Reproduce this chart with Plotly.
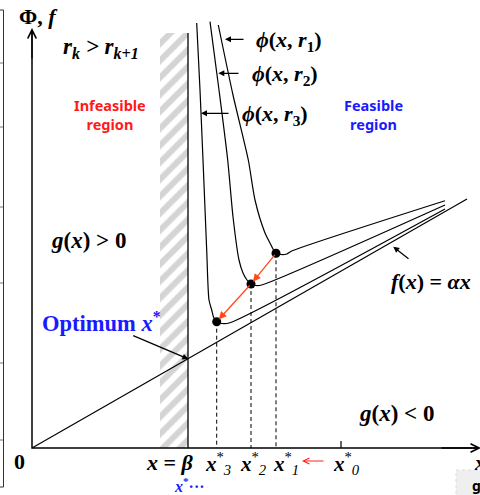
import plotly.graph_objects as go

# ---- data (diagram coordinates: x right, y down, in chart units) ----
r1_x = [218.3, 233, 248.3, 255, 265, 270, 273, 276, 281, 286.7, 291.7, 445]
r1_y = [25, 95, 160, 200, 233, 243, 249, 253.3, 254.5, 254, 251, 200.7]
r2_x = [210, 219, 227.7, 233, 239, 243, 247, 251, 256, 261.7, 445]
r2_y = [21.7, 90, 160, 216.7, 260, 273, 280, 284, 285.5, 285, 205]
r3_x = [196.7, 200, 203, 206.7, 209, 211.7, 213.5, 216.7, 222, 230, 445]
r3_y = [23, 90, 160, 250, 300, 310, 317, 321.7, 323.5, 322.7, 209]
f_x = [32, 467]
f_y = [448, 199]
opt_x = [216.7, 251, 276]
opt_y = [321.7, 284, 253.3]
axis_origin = (32, 448)
beta_x = 188
x0_tick = 341
hatch_left = 160
hatch_top = 33
frame_ticks_y = [10, 63, 127, 207, 283, 363, 440, 487]

SERIF = "Liberation Serif"
SANS = "Noto Sans"

fig = go.Figure()

# hatched infeasible band
fig.add_trace(go.Scatter(
    x=[hatch_left, beta_x, beta_x, hatch_left, hatch_left],
    y=[hatch_top, hatch_top, axis_origin[1], axis_origin[1], hatch_top],
    mode="lines", fill="toself", line=dict(width=0),
    fillcolor="rgba(0,0,0,0)",
    fillpattern=dict(shape="/", fgcolor="#a9a9a9", bgcolor="white", size=12, solidity=0.5),
    hoverinfo="skip", showlegend=False))

# constraint boundary x = beta
fig.add_trace(go.Scatter(x=[beta_x, beta_x], y=[hatch_top, axis_origin[1]], mode="lines",
                         line=dict(color="black", width=1.3), showlegend=False))

# f(x) line
fig.add_trace(go.Scatter(x=f_x, y=f_y, mode="lines", line=dict(color="black", width=1.2),
                         showlegend=False))

# penalty curves
for cx, cy in [(r1_x, r1_y), (r2_x, r2_y), (r3_x, r3_y)]:
    fig.add_trace(go.Scatter(x=cx, y=cy, mode="lines",
                             line=dict(color="black", width=1.2, shape="spline", smoothing=0.7),
                             showlegend=False))

# dashed drops
for ox, oy in zip(opt_x, opt_y):
    fig.add_trace(go.Scatter(x=[ox, ox], y=[oy, axis_origin[1]], mode="lines",
                             line=dict(color="black", width=1, dash="4px,3px"), showlegend=False))

# x*0 tick
fig.add_trace(go.Scatter(x=[x0_tick, x0_tick], y=[441, axis_origin[1]], mode="lines",
                         line=dict(color="black", width=1.2), showlegend=False))

# axes
fig.add_trace(go.Scatter(x=[axis_origin[0], axis_origin[0], 479], y=[30, axis_origin[1], axis_origin[1]],
                         mode="lines", line=dict(color="black", width=1.5), showlegend=False))

# left frame artifact
fig.add_trace(go.Scatter(x=[0, 3.5, 3.5, 0], y=[10, 10, 487, 487], mode="lines",
                         line=dict(color="#333", width=1), showlegend=False))
for ty in frame_ticks_y[1:-1]:
    fig.add_trace(go.Scatter(x=[0, 3], y=[ty, ty], mode="lines",
                             line=dict(color="#777", width=1), showlegend=False))

# bottom-right grey box artifact
fig.add_trace(go.Scatter(x=[456, 481, 481, 456, 456], y=[470, 470, 496, 496, 470], mode="lines",
                         fill="toself", fillcolor="#efefef", line=dict(color="#dddddd", width=1, dash="dot"),
                         showlegend=False))

# optimum dots
fig.add_trace(go.Scatter(x=opt_x, y=opt_y, mode="markers",
                         marker=dict(color="black", size=9), showlegend=False))

ann = []

def arrow(x0, y0, x1, y1, color="black", head=2, width=1.2, size=1.0, standoff=0):
    ann.append(dict(x=x1, y=y1, ax=x0, ay=y0, xref="x", yref="y", axref="x", ayref="y",
                    text="", showarrow=True, arrowhead=head, arrowsize=size, arrowwidth=width,
                    arrowcolor=color, standoff=standoff))

def label(x, y, text, size=20, color="black", family=SERIF, xanchor="center"):
    ann.append(dict(x=x, y=y, xref="x", yref="y", text=text, showarrow=False,
                    font=dict(family=family, size=size, color=color), xanchor=xanchor, yanchor="middle"))

# axis arrowheads
arrow(32, 60, 32, 28, head=5, width=1.3, size=1.3)
arrow(440, 448, 481, 448, head=5, width=1.3, size=1.3)

# red iteration arrows
arrow(opt_x[2], opt_y[2], opt_x[1], opt_y[1], color="#ff4a1a", head=2, width=1.3, size=1.2, standoff=3)
arrow(opt_x[1], opt_y[1], opt_x[0], opt_y[0], color="#ff4a1a", head=2, width=1.3, size=1.2, standoff=3)
arrow(325, 461, 302, 461, color="#ff2020", head=5, width=1.0, size=1.2)

# label arrows
arrow(245, 39.3, 225, 39.3)
arrow(240, 73.3, 218.3, 73.3)
arrow(230, 113.3, 201, 113.3)
arrow(131.7, 335, 188.3, 359)
arrow(410, 260, 393.3, 246.7)

# texts
label(38, 16, "<b>Φ, <i>f</i></b>", size=22)
label(101, 48, "<b><i>r<sub>k</sub> > r<sub>k+1</sub></i></b>", size=23)
label(110, 114, "<b>Infeasible<br>region</b>", size=14.5, color="#ff1a1a", family=SANS)
label(373, 114, "<b>Feasible<br>region</b>", size=14.5, color="#1a1aff", family=SANS)
label(289, 41, "<b><i>ϕ</i>(<i>x</i>, <i>r</i><sub>1</sub>)</b>", size=22)
label(284.5, 75, "<b><i>ϕ</i>(<i>x</i>, <i>r</i><sub>2</sub>)</b>", size=22)
label(275, 115, "<b><i>ϕ</i>(<i>x</i>, <i>r</i><sub>3</sub>)</b>", size=22)
label(88, 240, "<b><i>g</i>(<i>x</i>) > 0</b>", size=23)
label(101, 322, "<b>Optimum <i>x</i><sup>*</sup></b>", size=22.5, color="#1a1aff")
label(431, 281, "<b><i>f</i>(<i>x</i>) = <i>αx</i></b>", size=22)
label(396, 413, "<b><i>g</i>(<i>x</i>) < 0</b>", size=23)
label(19, 461, "<b>0</b>", size=22)
label(169.5, 462, "<b><i>x</i> = <i>β</i></b>", size=22)
label(218, 463, "<b><i>x</i></b><sup>*</sup><i><sub>3</sub></i>", size=21)
label(253, 463, "<b><i>x</i></b><sup>*</sup><i><sub>2</sub></i>", size=21)
label(286, 463, "<b><i>x</i></b><sup>*</sup><i><sub>1</sub></i>", size=21)
label(346, 463, "<b><i>x</i></b><sup>*</sup><i><sub>0</sub></i>", size=21)
label(189, 485, "<b><i>x</i><sup>*</sup>···</b>", size=16, color="#1a1aff")
label(472, 463, "<b><i>x</i></b>", size=21, xanchor="left")
label(470, 485, "<b>g</b>", size=14, family=SANS, xanchor="left")

fig.update_layout(
    width=480, height=495, margin=dict(l=0, r=0, t=0, b=0),
    paper_bgcolor="white", plot_bgcolor="white",
    xaxis=dict(range=[0, 480], visible=False, fixedrange=True),
    yaxis=dict(range=[495, 0], visible=False, fixedrange=True),
    annotations=ann, showlegend=False,
)

fig.write_html("out.html", config={"displayModeBar": False, "staticPlot": True},
               post_script="document.body.style.margin='0';document.body.style.overflow='hidden';")
